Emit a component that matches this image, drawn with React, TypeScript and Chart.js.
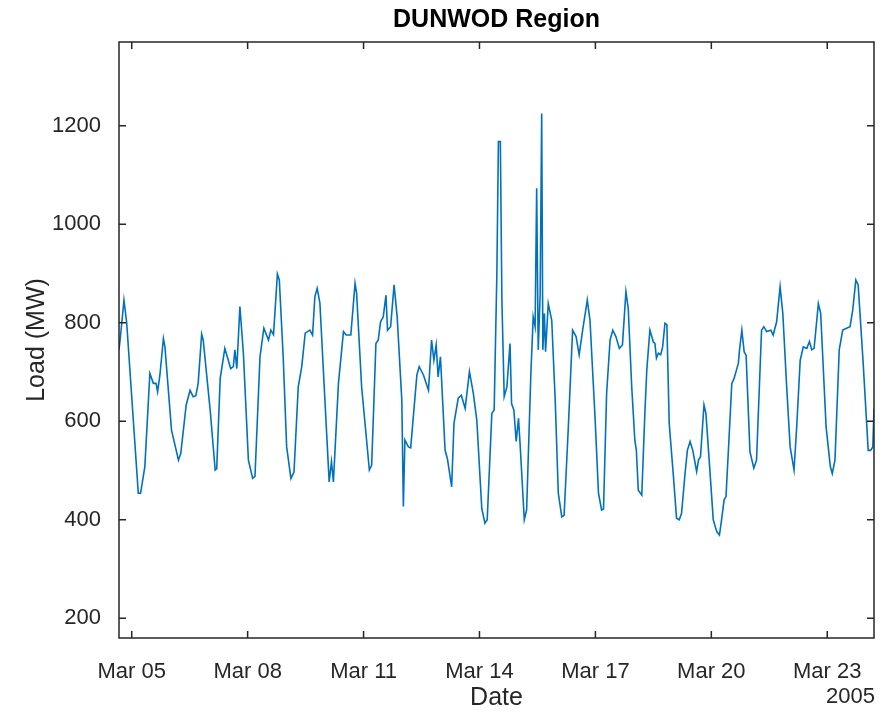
import React, { useEffect, useRef } from "react";
import { Chart, registerables } from "chart.js";

Chart.register(...registerables);

// Time as day of March 2005 (fractional), load in MW
const dayOfMarch: number[] = [
  4.67, 4.70, 4.80, 4.87, 5.17, 5.23, 5.34, 5.47, 5.56, 5.63, 5.67, 5.73, 5.82, 5.86,
  6.03, 6.21, 6.27, 6.41, 6.51, 6.59, 6.66, 6.72, 6.81, 6.85,
  7.03, 7.16, 7.20, 7.29, 7.41, 7.50, 7.56, 7.63, 7.67, 7.72, 7.80, 7.89,
  8.02, 8.13, 8.19, 8.32, 8.42, 8.54, 8.60, 8.67, 8.77, 8.82, 8.92,
  9.01, 9.12, 9.20, 9.31, 9.40, 9.49, 9.61, 9.68, 9.74, 9.80, 9.87,
  10.00, 10.11, 10.17, 10.22, 10.35, 10.48, 10.55, 10.67, 10.78, 10.82, 10.95,
  11.15, 11.21, 11.32, 11.38, 11.44, 11.51, 11.58, 11.62, 11.70, 11.79, 11.87, 11.99,
  12.03, 12.07, 12.16, 12.22, 12.38, 12.44, 12.55, 12.68, 12.76, 12.82, 12.88, 12.93, 12.99,
  13.11, 13.17, 13.28, 13.34, 13.45, 13.53, 13.63, 13.74, 13.84, 13.93,
  14.06, 14.14, 14.20, 14.32, 14.38, 14.45, 14.49, 14.54, 14.58, 14.64, 14.71, 14.79, 14.83, 14.89, 14.95,
  15.01, 15.05, 15.16, 15.22, 15.33, 15.39, 15.44, 15.48, 15.52, 15.57, 15.61, 15.64, 15.68, 15.71, 15.78, 15.87, 15.96,
  16.04, 16.13, 16.19, 16.30, 16.41, 16.50, 16.58, 16.67, 16.79, 16.86, 16.99,
  17.08, 17.16, 17.21, 17.29, 17.38, 17.45, 17.53, 17.62, 17.70, 17.79, 17.85, 17.94,
  18.02, 18.06, 18.11, 18.20, 18.28, 18.33, 18.41, 18.50, 18.54, 18.58, 18.63, 18.69, 18.74, 18.80, 18.85, 18.91,
  19.02, 19.10, 19.17, 19.23, 19.32, 19.38, 19.45, 19.52, 19.62, 19.67, 19.72, 19.81, 19.86, 19.95,
  20.05, 20.14, 20.21, 20.27, 20.33, 20.38, 20.44, 20.53, 20.59, 20.70, 20.73, 20.79, 20.85, 20.90,
  21.00, 21.10, 21.17, 21.30, 21.36, 21.43, 21.54, 21.60, 21.69, 21.78, 21.85, 21.95,
  22.04, 22.14, 22.21, 22.30, 22.38, 22.47, 22.54, 22.60, 22.66, 22.77, 22.83, 22.97,
  23.08, 23.13, 23.20, 23.31, 23.40, 23.50, 23.59, 23.66, 23.74, 23.80, 23.93,
  24.06, 24.12, 24.18, 24.21,
];

const loadMW: number[] = [
  745, 765, 846, 800, 454, 454, 508, 697, 677, 677, 660, 694, 768, 751,
  582, 521, 535, 633, 663, 650, 652, 677, 777, 765,
  623, 501, 504, 687, 748, 724, 707, 711, 745, 707, 833, 738,
  521, 484, 488, 731, 789, 765, 785, 776, 899, 887, 731,
  548, 484, 497, 670, 711, 779, 785, 775, 853, 870, 840,
  643, 477, 518, 477, 677, 782, 775, 775, 880, 860, 670,
  501, 511, 758, 765, 802, 812, 856, 785, 792, 877, 812, 643,
  427, 562, 548, 546, 694, 711, 694, 663, 765, 724, 755, 690, 731,
  541, 524, 467, 596, 647, 653, 626, 701, 657, 603,
  423, 393, 400, 616, 623, 900, 1168, 1168, 846, 650, 670, 758, 636, 623, 559,
  606, 555, 400, 420, 697, 812, 792, 1073, 745, 856, 1225, 745, 819, 741, 839, 805, 643,
  454, 406, 409, 589, 785, 772, 735, 785, 846, 805, 609,
  454, 420, 422, 656, 765, 785, 772, 748, 755, 863, 829, 670,
  562, 541, 460, 450, 616, 704, 785, 761, 758, 728, 738, 735, 751, 799, 796, 596,
  487, 403, 400, 413, 494, 541, 559, 541, 498, 522, 528, 633, 616, 515,
  400, 376, 369, 403, 440, 447, 538, 677, 687, 718, 745, 785, 741, 734,
  538, 505, 521, 785, 792, 782, 785, 775, 802, 873, 819, 670,
  548, 501, 589, 724, 751, 748, 762, 745, 748, 839, 819, 589,
  508, 494, 521, 745, 785, 789, 792, 826, 887, 877, 718,
  541, 541, 548, 626,
];

const xTickDays: number[] = [5, 8, 11, 14, 17, 20, 23];
const yTicks: number[] = [200, 400, 600, 800, 1000, 1200];
const monthLabel = "Mar";
const yearLabel = "2005";
const titleText = "DUNWOD Region";
const xTitle = "Date";
const yTitle = "Load (MW)";

const FONT = "'Liberation Sans', Arial, Helvetica, sans-serif";
const AXIS_COLOR = "#262626";
const LINE_COLOR = "#0072BD";

const boxPlugin = {
  id: "matlabBox",
  afterDraw(chart: any) {
    const { ctx, chartArea, scales } = chart;
    const { left, right, top, bottom } = chartArea;
    const x = scales.x;
    const y = scales.y;
    ctx.save();
    ctx.strokeStyle = AXIS_COLOR;
    ctx.lineWidth = 1.5;
    ctx.strokeRect(left, top, right - left, bottom - top);
    const tl = 7;
    ctx.beginPath();
    for (const d of xTickDays) {
      const px = x.getPixelForValue(d);
      ctx.moveTo(px, bottom);
      ctx.lineTo(px, bottom - tl);
      ctx.moveTo(px, top);
      ctx.lineTo(px, top + tl);
    }
    for (const v of yTicks) {
      const py = y.getPixelForValue(v);
      ctx.moveTo(left, py);
      ctx.lineTo(left + tl, py);
      ctx.moveTo(right, py);
      ctx.lineTo(right - tl, py);
    }
    ctx.stroke();
    ctx.fillStyle = AXIS_COLOR;
    ctx.font = `22px ${FONT}`;
    ctx.textAlign = "right";
    ctx.textBaseline = "middle";
    ctx.fillText(yearLabel, right + 1, 697);
    ctx.restore();
  },
};

export default function App() {
  const canvasRef = useRef<HTMLCanvasElement | null>(null);

  useEffect(() => {
    if (!canvasRef.current) return;
    const points = dayOfMarch.map((d, i) => ({ x: d, y: loadMW[i] }));
    const chart = new Chart(canvasRef.current, {
      type: "line",
      data: {
        datasets: [
          {
            data: points,
            borderColor: LINE_COLOR,
            borderWidth: 1.6,
            pointRadius: 0,
            tension: 0,
            fill: false,
          },
        ],
      },
      options: {
        animation: false,
        responsive: false,
        maintainAspectRatio: false,
        layout: { padding: { left: 0, right: 10, top: 0, bottom: 0 } },
        plugins: {
          legend: { display: false },
          tooltip: { enabled: false },
          title: {
            display: true,
            text: titleText,
            fullSize: false,
            color: "#000000",
            font: { family: FONT, size: 25, weight: "bold", lineHeight: 1.2 },
            padding: { top: 5, bottom: 7 },
          },
        },
        scales: {
          x: {
            type: "linear",
            min: 4.671,
            max: 24.21,
            grid: { display: false },
            border: { display: false },
            afterBuildTicks: (scale: any) => {
              scale.ticks = xTickDays.map((v) => ({ value: v }));
            },
            afterFit: (scale: any) => {
              scale.height = 75;
            },
            ticks: {
              color: AXIS_COLOR,
              font: { family: FONT, size: 22, lineHeight: 1.2 },
              padding: 13,
              maxRotation: 0,
              autoSkip: false,
              callback: (v: any) => `${monthLabel} ${String(v).padStart(2, "0")}`,
            },
            title: {
              display: true,
              text: xTitle,
              color: AXIS_COLOR,
              font: { family: FONT, size: 25, lineHeight: 1.2 },
              padding: { top: 0, bottom: 0 },
            },
          },
          y: {
            type: "linear",
            min: 160,
            max: 1370,
            grid: { display: false },
            border: { display: false },
            afterBuildTicks: (scale: any) => {
              scale.ticks = yTicks.map((v) => ({ value: v }));
            },
            afterFit: (scale: any) => {
              scale.width = 119;
            },
            ticks: {
              color: AXIS_COLOR,
              font: { family: FONT, size: 22, lineHeight: 1.2 },
              padding: 10,
              autoSkip: false,
              callback: (v: any) => String(v),
            },
            title: {
              display: true,
              text: yTitle,
              color: AXIS_COLOR,
              font: { family: FONT, size: 25, lineHeight: 1.2 },
              padding: { top: 22, bottom: 0 },
            },
          },
        },
      },
      plugins: [boxPlugin],
    });
    return () => chart.destroy();
  }, []);

  return (
    <div style={{ position: "fixed", left: 0, top: 0, width: 884, height: 713, background: "#ffffff" }}>
      <canvas ref={canvasRef} width={884} height={713} />
    </div>
  );
}
